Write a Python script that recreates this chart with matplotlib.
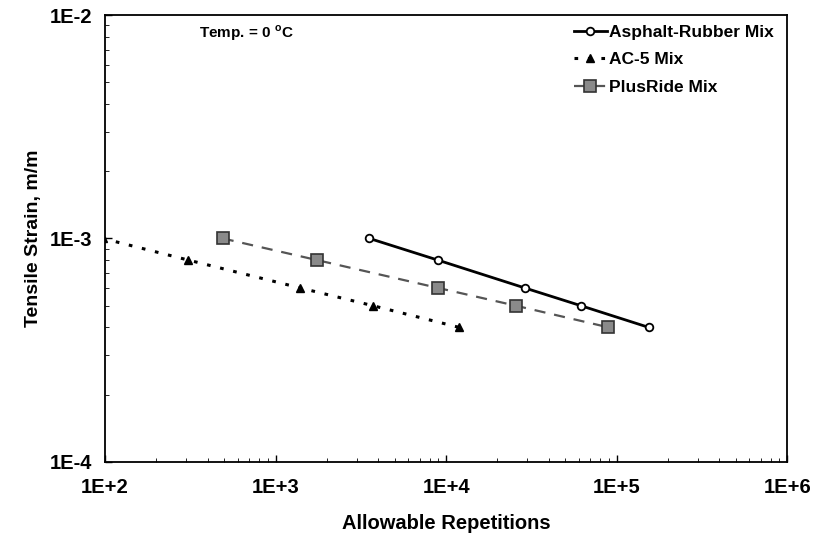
import numpy as np
import matplotlib
matplotlib.use("Agg")
import matplotlib.pyplot as plt
from matplotlib.ticker import LogLocator, FixedLocator, FixedFormatter, NullFormatter

plt.rcParams['font.family'] = ['Liberation Sans', 'DejaVu Sans']

# Asphalt-Rubber mix
ar_reps = [3550, 8940, 29000, 61700, 154000]
ar_strain = [0.001, 0.0008, 0.0006, 0.0005, 0.0004]
# AC-5 mix
ac_reps = [97, 308, 1400, 3720, 11900]
ac_strain = [0.001, 0.0008, 0.0006, 0.0005, 0.0004]
# PlusRide mix
pr_reps = [490, 1750, 9000, 25600, 89500]
pr_strain = [0.001, 0.0008, 0.0006, 0.0005, 0.0004]

x_ticks = [1e2, 1e3, 1e4, 1e5, 1e6]
x_labels = ['1E+2', '1E+3', '1E+4', '1E+5', '1E+6']
y_ticks = [1e-4, 1e-3, 1e-2]
y_labels = ['1E-4', '1E-3', '1E-2']

fig = plt.figure(figsize=(8.14, 5.37), dpi=100)
ax = fig.add_axes([0.129, 0.14, 0.838, 0.832])

ax.plot(ar_reps, ar_strain, color='black', linestyle='-', linewidth=2,
        marker='o', markersize=5.5, markerfacecolor='white',
        markeredgecolor='black', markeredgewidth=1.3, label='Asphalt-Rubber Mix')
ax.plot(ac_reps, ac_strain, color='black', linestyle=(0, (1.2, 3.2)), linewidth=2.2,
        marker='^', markersize=5.5, markerfacecolor='black',
        markeredgecolor='black', label='AC-5 Mix')
ax.plot(pr_reps, pr_strain, color='#555555', linestyle=(0, (5, 4)), linewidth=1.6,
        marker='s', markersize=8, markerfacecolor='#8a8a8a',
        markeredgecolor='#333333', markeredgewidth=1.2, label='PlusRide Mix')

ax.set_xscale('log')
ax.set_yscale('log')
ax.set_xlim(1e2, 1e6)
ax.set_ylim(1e-4, 1e-2)

ax.xaxis.set_major_locator(FixedLocator(x_ticks))
ax.xaxis.set_major_formatter(FixedFormatter(x_labels))
ax.yaxis.set_major_locator(FixedLocator(y_ticks))
ax.yaxis.set_major_formatter(FixedFormatter(y_labels))
ax.xaxis.set_minor_locator(LogLocator(base=10, subs=np.arange(2, 10)))
ax.yaxis.set_minor_locator(LogLocator(base=10, subs=np.arange(2, 10)))
ax.xaxis.set_minor_formatter(NullFormatter())
ax.yaxis.set_minor_formatter(NullFormatter())

ax.tick_params(which='major', direction='in', length=5, width=1, labelsize=14.5)
ax.tick_params(axis='x', which='major', pad=12)
ax.tick_params(axis='y', which='major', pad=9)
ax.tick_params(which='minor', direction='in', length=3, width=0.6)
for lbl in ax.get_xticklabels() + ax.get_yticklabels():
    lbl.set_fontweight('bold')

for sp in ax.spines.values():
    sp.set_linewidth(1.3)

ax.set_xlabel('Allowable Repetitions', fontsize=14.5, fontweight='bold', labelpad=12)
ax.set_ylabel('Tensile Strain, m/m', fontsize=14, fontweight='bold', labelpad=6)

ax.text(0.138, 0.982, 'Temp. = 0 $^{\\mathregular{o}}$C', transform=ax.transAxes,
        fontsize=11, fontweight='bold', va='top', ha='left')

leg = ax.legend(loc='upper right', frameon=False, fontsize=12.5,
                handlelength=1.9, handletextpad=0.15, labelspacing=0.72,
                borderaxespad=0.15, bbox_to_anchor=(0.995, 1.0))
for t in leg.get_texts():
    t.set_fontweight('bold')

fig.savefig('out.png', dpi=100)
